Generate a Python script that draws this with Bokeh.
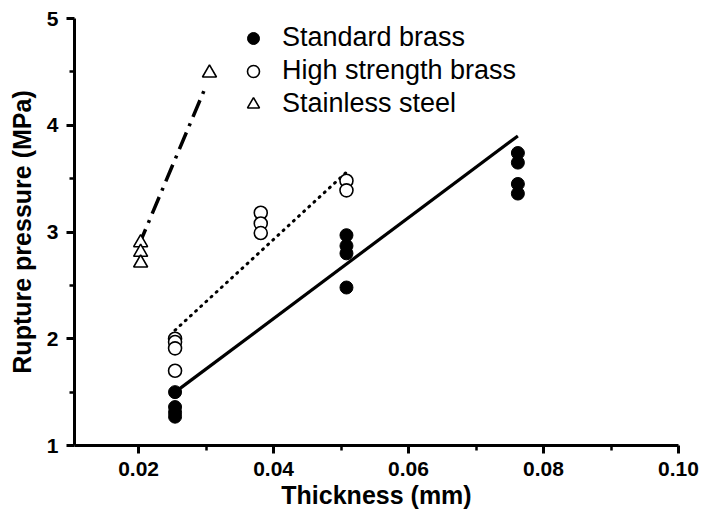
from bokeh.plotting import figure
from bokeh.models import Range1d, FixedTicker, Legend, LegendItem
from bokeh.embed import file_html
from bokeh.resources import INLINE

# ---- data ----
std_x = [0.0254, 0.0254, 0.0254, 0.0254, 0.0508, 0.0508, 0.0508, 0.0508,
         0.0762, 0.0762, 0.0762, 0.0762]
std_y = [1.50, 1.36, 1.31, 1.27, 2.97, 2.87, 2.80, 2.48, 3.74, 3.65, 3.45, 3.36]

hs_x = [0.0254, 0.0254, 0.0254, 0.0254, 0.0381, 0.0381, 0.0381, 0.0508, 0.0508]
hs_y = [2.00, 1.97, 1.91, 1.70, 3.18, 3.08, 2.99, 3.48, 3.39]

ss_x = [0.0203, 0.0203, 0.0203, 0.0305]
ss_y = [2.90, 2.81, 2.71, 4.49]

std_fit_x = [0.0254, 0.0762]
std_fit_y = [1.50, 3.90]
hs_fit_x = [0.0254, 0.0508]
hs_fit_y = [2.08, 3.56]
ss_fit_x = [0.0200, 0.0300]
ss_fit_y = [2.87, 4.37]

x_major = [0.02, 0.04, 0.06, 0.08, 0.10]
x_minor = [0.03, 0.05, 0.07, 0.09]
y_major = [1, 2, 3, 4, 5]
y_minor = [1.5, 2.5, 3.5, 4.5]
x_tick_labels = {0.02: "0.02", 0.04: "0.04", 0.06: "0.06", 0.08: "0.08", 0.10: "0.10"}

series_names = ["Standard brass", "High strength brass", "Stainless steel"]

FONT = "Liberation Sans"

p = figure(width=704, height=517, output_backend="svg", toolbar_location=None,
           x_range=Range1d(0.0105, 0.1), y_range=Range1d(1, 5),
           min_border_left=74, min_border_right=26, min_border_top=18,
           min_border_bottom=72)
p.outline_line_color = None
p.xgrid.visible = False
p.ygrid.visible = False
p.background_fill_color = "white"
p.border_fill_color = "white"

# fitted lines
p.line(std_fit_x, std_fit_y, line_color="black", line_width=3.2)
p.line(hs_fit_x, hs_fit_y, line_color="black", line_width=3, line_dash="1 6",
       line_cap="round")
p.line(ss_fit_x, ss_fit_y, line_color="black", line_width=3.5, line_dash="18 7 3 7")

# markers
r_std = p.scatter(std_x, std_y, marker="circle", size=13, fill_color="black",
                  line_color="black", line_width=1)
r_hs = p.scatter(hs_x, hs_y, marker="circle", size=13, fill_color="white",
                 line_color="black", line_width=1.6)
r_ss = p.scatter(ss_x, ss_y, marker="triangle", size=14, fill_color="white",
                 line_color="black", line_width=1.6)

# axes
for ax in (p.xaxis[0], p.yaxis[0]):
    ax.axis_line_width = 3
    ax.axis_line_color = "black"
    ax.major_tick_line_width = 3
    ax.minor_tick_line_width = 2.5
    ax.major_tick_out = 8
    ax.major_tick_in = 0
    ax.minor_tick_out = 5
    ax.minor_tick_in = 0
    ax.major_label_text_font = FONT
    ax.major_label_text_font_style = "bold"
    ax.major_label_text_font_size = "21px"
    ax.major_label_text_color = "black"
    ax.axis_label_text_font = FONT
    ax.axis_label_text_font_style = "bold"
    ax.axis_label_text_font_size = "25px"
    ax.axis_label_text_color = "black"

p.xaxis.ticker = FixedTicker(ticks=x_major, minor_ticks=x_minor)
p.xaxis.major_label_overrides = x_tick_labels
p.yaxis.ticker = FixedTicker(ticks=y_major, minor_ticks=y_minor)
p.xaxis.axis_label = "Thickness (mm)"
p.yaxis.axis_label = "Rupture pressure (MPa)"
p.xaxis.major_label_standoff = 8
p.xaxis.axis_label_standoff = 2
p.yaxis.major_label_standoff = 8
p.yaxis.axis_label_standoff = 8

legend = Legend(items=[LegendItem(label=series_names[0], renderers=[r_std]),
                       LegendItem(label=series_names[1], renderers=[r_hs]),
                       LegendItem(label=series_names[2], renderers=[r_ss])],
                location=(164, 326), padding=0, margin=0, spacing=2,
                glyph_width=30, glyph_height=30, label_height=30,
                label_standoff=14, border_line_color=None,
                background_fill_alpha=0,
                label_text_font=FONT, label_text_font_size="27px",
                label_text_color="black")
p.add_layout(legend)

open("out.html", "w").write(file_html(p, INLINE))
